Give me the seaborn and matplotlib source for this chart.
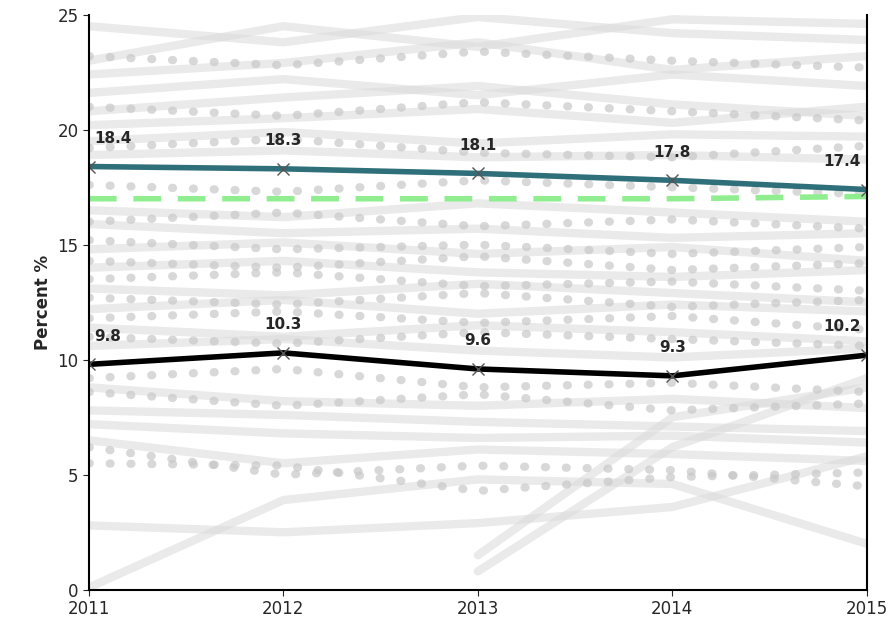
import numpy as np
import matplotlib.pyplot as plt
import seaborn as sns

sns.set_style("white")

years = [2011, 2012, 2013, 2014, 2015]

# highlighted series
teal_vals = [18.4, 18.3, 18.1, 17.8, 17.4]
black_vals = [9.8, 10.3, 9.6, 9.3, 10.2]
green_vals = [17.0, 17.0, 17.0, 17.0, 17.1]

# background solid grey lines (estimated)
grey_solid = [
    [24.5, 23.8, 24.9, 24.2, 23.9], [23.0, 24.5, 23.6, 24.8, 24.6],
    [22.4, 22.9, 23.8, 22.6, 23.2], [21.6, 22.2, 21.5, 22.4, 21.9],
    [20.8, 21.4, 21.9, 21.1, 20.6], [20.2, 20.5, 20.9, 20.3, 21.0],
    [19.5, 19.9, 19.4, 19.8, 19.7], [18.9, 19.1, 18.8, 18.9, 18.7],
    [16.5, 16.2, 16.8, 16.4, 16.0], [15.9, 15.5, 15.7, 15.3, 15.5],
    [14.8, 15.1, 14.6, 14.9, 14.3], [14.0, 14.3, 13.8, 13.6, 13.9],
    [13.1, 12.8, 13.3, 12.9, 12.5], [12.2, 12.6, 12.0, 12.4, 12.1],
    [11.4, 11.0, 11.5, 11.2, 10.8], [10.6, 10.9, 10.4, 10.1, 10.5],
    [8.8, 8.2, 8.0, 8.3, 7.9], [7.8, 7.6, 7.3, 7.1, 6.9],
    [7.2, 6.8, 6.6, 6.7, 6.4], [6.5, 5.5, 6.1, 5.9, 5.6],
    [2.8, 2.5, 2.9, 3.6, 5.8], [0.1, 3.9, 4.8, 4.6, 2.0],
    [np.nan, np.nan, 0.8, 6.2, 9.2], [np.nan, np.nan, 1.5, 7.5, 8.8],
]

# background dotted grey lines (estimated)
grey_dotted = [
    [23.2, 22.8, 23.4, 23.0, 22.7], [21.0, 20.6, 21.2, 20.8, 20.4],
    [19.2, 19.6, 19.0, 18.8, 19.3], [17.6, 17.3, 17.8, 17.5, 17.2],
    [16.0, 16.4, 15.8, 16.1, 15.7], [15.2, 14.8, 15.0, 14.6, 14.9],
    [14.3, 14.0, 14.5, 13.9, 14.2], [13.5, 13.8, 13.2, 13.4, 13.0],
    [12.7, 12.4, 12.9, 12.3, 12.6], [11.8, 12.1, 11.6, 11.9, 11.3],
    [11.0, 10.7, 11.2, 10.9, 10.6], [9.2, 9.6, 8.8, 9.0, 8.6],
    [8.6, 8.0, 8.5, 7.8, 8.1], [6.2, 5.0, 5.4, 5.2, 4.5],
    [5.5, 5.4, 4.3, 4.9, 5.1],
]

fig, ax = plt.subplots(figsize=(8.89, 6.39), dpi=100)

for vals in grey_solid:
    sns.lineplot(x=years, y=vals, ax=ax, color="#dcdcdc", lw=6, alpha=0.6)
for vals in grey_dotted:
    sns.lineplot(x=years, y=vals, ax=ax, color="#c8c8c8", lw=6, alpha=0.7,
                 linestyle=(0, (0.1, 2.4)), dash_capstyle="round")

sns.lineplot(x=years, y=green_vals, ax=ax, color="#90ee90", lw=4,
             linestyle=(0, (5, 3)))
sns.lineplot(x=years, y=teal_vals, ax=ax, color="#2f6f7a", lw=4,
             marker="x", markersize=8, markeredgecolor="#555555", mew=1)
sns.lineplot(x=years, y=black_vals, ax=ax, color="black", lw=4,
             marker="x", markersize=8, markeredgecolor="#555555", mew=1)

aligns = ["left", "center", "center", "center", "right"]
offs = [0.03, 0, 0, 0, -0.03]
for vals in (teal_vals, black_vals):
    for x, y, ha, o in zip(years, vals, aligns, offs):
        ax.text(x + o, y + 0.9, f"{y}", ha=ha, va="bottom",
                fontsize=11, fontweight="bold")

ax.set_xlim(2011, 2015)
ax.set_ylim(0, 25)
ax.set_xticks(years)
ax.set_yticks([0, 5, 10, 15, 20, 25])
ax.tick_params(labelsize=12, direction="out", length=4, left=True, bottom=True)
ax.set_ylabel("Percent %", fontsize=12, fontweight="bold")
for s in ax.spines.values():
    s.set_color("black")
    s.set_linewidth(1.5)
ax.spines["top"].set_visible(False)

fig.subplots_adjust(left=0.1, right=0.975, top=0.977, bottom=0.077)
fig.savefig("out.png", dpi=100)
